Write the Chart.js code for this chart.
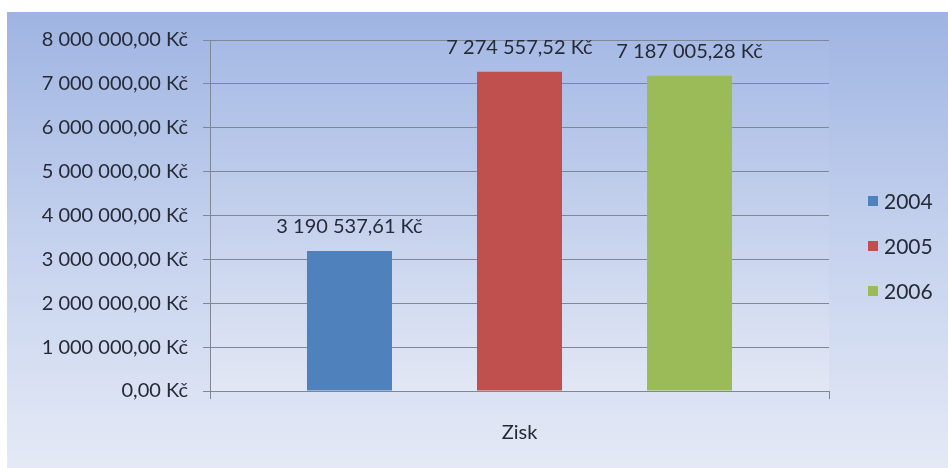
<!DOCTYPE html>
<html>
<head>
<meta charset="utf-8">
<script src="https://cdn.jsdelivr.net/npm/chart.js@4"></script>
<style>
  html, body { margin: 0; padding: 0; background: #fff; }
  #wrap { width: 948px; height: 468px; }
</style>
</head>
<body>
<div id="wrap"><canvas id="zisk" width="948" height="468"></canvas></div>
<script>
const categories = ['Zisk'];
const years = ['2004', '2005', '2006'];
const values = [3190537.61, 7274557.52, 7187005.28];
const colors = ['#4f81bd', '#c0504d', '#9bbb59'];
const yTicks = [0, 1000000, 2000000, 3000000, 4000000, 5000000, 6000000, 7000000, 8000000];

const FONT = 'Lato, "Open Sans", sans-serif';
const TEXT = '#262a36';
const LINE = '#7f8794';

function kc(v) {
    const parts = v.toFixed(2).split('.');
    const whole = parts[0].replace(/\B(?=(\d{3})+(?!\d))/g, ' ');
    return whole + ',' + parts[1] + ' Kč';
}

const background = {
    id: 'background',
    beforeDraw(chart) {
        const c = chart.ctx, a = chart.chartArea;
        c.save();
        c.fillStyle = '#ffffff';
        c.fillRect(0, 0, chart.width, chart.height);
        let g = c.createLinearGradient(0, 12, 0, chart.height);
        g.addColorStop(0, '#9fb4e2');
        g.addColorStop(0.5, '#c5d2ee');
        g.addColorStop(1, '#e4e9f5');
        c.fillStyle = g;
        c.fillRect(7, 12, chart.width - 7, chart.height - 12);
        g = c.createLinearGradient(0, a.top, 0, a.bottom);
        g.addColorStop(0, '#a6bae5');
        g.addColorStop(1, '#e2e7f4');
        c.fillStyle = g;
        c.fillRect(a.left, a.top, a.right - a.left, a.bottom - a.top);
        c.restore();
    }
};

const barLabels = {
    id: 'barLabels',
    afterDatasetsDraw(chart) {
        const c = chart.ctx;
        c.save();
        c.font = '20px ' + FONT;
        c.fillStyle = TEXT;
        c.textAlign = 'center';
        c.textBaseline = 'middle';
        chart.data.datasets.forEach((ds, i) => {
            const bar = chart.getDatasetMeta(i).data[0];
            c.fillText(kc(ds.data[0]), bar.x, bar.y - 24);
        });
        c.restore();
    }
};

const sideLegend = {
    id: 'sideLegend',
    afterDraw(chart) {
        const c = chart.ctx;
        c.save();
        c.font = '21px ' + FONT;
        c.textBaseline = 'middle';
        chart.data.datasets.forEach((ds, i) => {
            const y = 201 + i * 45;
            c.fillStyle = ds.backgroundColor;
            c.fillRect(868, y - 5, 10, 10);
            c.fillStyle = TEXT;
            c.fillText(ds.label, 884, y + 1);
        });
        c.restore();
    }
};

new Chart(document.getElementById('zisk'), {
    type: 'bar',
    data: {
        labels: categories,
        datasets: years.map((y, i) => ({
            label: y,
            data: [values[i]],
            backgroundColor: colors[i],
            borderWidth: 0,
            categoryPercentage: 0.824,
            barPercentage: 0.5
        }))
    },
    options: {
        responsive: false,
        animation: false,
        layout: { padding: { top: 40, right: 119, left: 0, bottom: 0 } },
        plugins: {
            legend: { display: false },
            tooltip: { enabled: false }
        },
        scales: {
            x: {
                afterFit(scale) { scale.height = 77; },
                grid: { display: true, drawOnChartArea: false, tickLength: 8, color: LINE },
                border: { display: true, color: LINE },
                ticks: { color: TEXT, font: { family: FONT, size: 20 }, padding: 22 }
            },
            y: {
                min: 0,
                max: 8000000,
                afterFit(scale) { scale.width = 210; },
                afterBuildTicks(scale) { scale.ticks = yTicks.map(v => ({ value: v })); },
                grid: { color: LINE, tickLength: 7 },
                border: { display: true, color: LINE },
                ticks: {
                    color: TEXT,
                    font: { family: FONT, size: 20 },
                    padding: 15,
                    callback: v => kc(v)
                }
            }
        }
    },
    plugins: [background, barLabels, sideLegend]
});
</script>
</body>
</html>
